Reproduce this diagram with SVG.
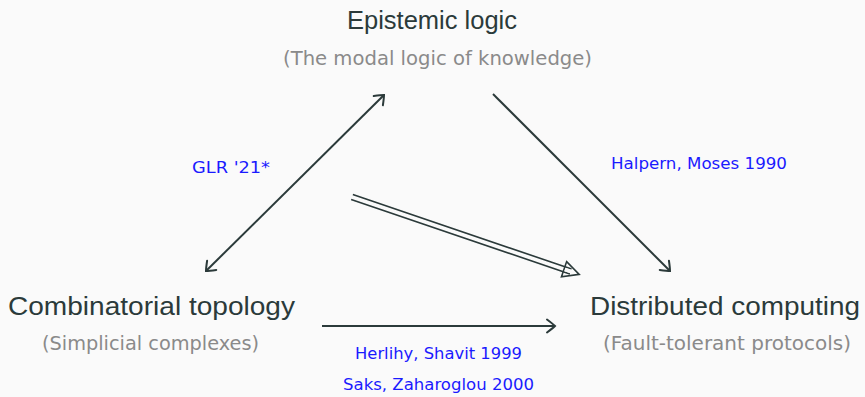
<svg xmlns="http://www.w3.org/2000/svg" width="865" height="397" viewBox="0 0 865 397">
<style>
.title{font-family:"Liberation Sans","DejaVu Sans",sans-serif;font-size:26px;fill:#2b3a3a;text-anchor:middle}
.sub{font-family:"DejaVu Sans","Liberation Sans",sans-serif;font-size:19px;fill:#8a8a8a;text-anchor:middle}
.lbl{font-family:"DejaVu Sans","Liberation Sans",sans-serif;font-size:15px;fill:#1a1aff}
.edge{stroke:#2b3a3a;stroke-width:2;fill:none}
.dbl{stroke:#2b3a3a;stroke-width:1.6;fill:none}
</style>
<defs>
<marker id="to" viewBox="-10 -8 12 16" refX="0" refY="0" markerWidth="12" markerHeight="16" markerUnits="userSpaceOnUse" orient="auto-start-reverse">
<path d="M-8,-6.5 Q-2,-2 0,0 Q-2,2 -8,6.5" stroke="#2b3a3a" stroke-width="2" fill="none" stroke-linecap="round"/>
</marker>
</defs>
<rect width="865" height="397" fill="#fafafa"/>
<g id="epistemic">
<text class="title" x="432" y="29" textLength="170" lengthAdjust="spacingAndGlyphs">Epistemic logic</text>
<text class="sub" x="437.5" y="65" textLength="309" lengthAdjust="spacingAndGlyphs">(The modal logic of knowledge)</text>
</g>
<g id="topology">
<text class="title" x="151.5" y="315" textLength="287" lengthAdjust="spacingAndGlyphs">Combinatorial topology</text>
<text class="sub" x="150.5" y="350" textLength="217" lengthAdjust="spacingAndGlyphs">(Simplicial complexes)</text>
</g>
<g id="distributed">
<text class="title" x="725" y="315" textLength="270" lengthAdjust="spacingAndGlyphs">Distributed computing</text>
<text class="sub" x="727" y="350" textLength="248" lengthAdjust="spacingAndGlyphs">(Fault-tolerant protocols)</text>
</g>
<g id="connectors">
<line class="edge" x1="206" y1="271" x2="384" y2="95" marker-start="url(#to)" marker-end="url(#to)"/>
<line class="edge" x1="493" y1="94" x2="670" y2="271" marker-end="url(#to)"/>
<line class="edge" x1="322" y1="326" x2="555" y2="326" marker-end="url(#to)"/>
<g transform="translate(352,197) rotate(18.8)">
<path class="dbl" d="M0,-2.6 H231 M0,2.6 H231 M224,-8 L240,0 L224,8 Z" stroke-linejoin="miter"/>
<path d="M225,-1.8 H234 V1.8 H225 Z" fill="#fafafa" stroke="none"/>
</g>
<text class="lbl" x="192" y="173" textLength="78" lengthAdjust="spacingAndGlyphs">GLR '21*</text>
<text class="lbl" x="611" y="168.5" textLength="176" lengthAdjust="spacingAndGlyphs">Halpern, Moses 1990</text>
<text class="lbl" x="438.5" y="358.5" text-anchor="middle" textLength="167" lengthAdjust="spacingAndGlyphs">Herlihy, Shavit 1999</text>
<text class="lbl" x="438.5" y="390" text-anchor="middle" textLength="191" lengthAdjust="spacingAndGlyphs">Saks, Zaharoglou 2000</text>
</g>
</svg>
